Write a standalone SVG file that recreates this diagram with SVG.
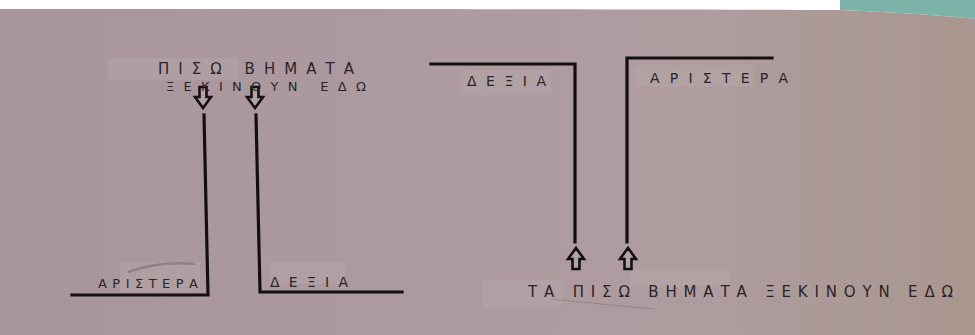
<svg xmlns="http://www.w3.org/2000/svg" width="975" height="335" viewBox="0 0 975 335">
<defs>
<linearGradient id="paper" x1="0" y1="0" x2="1" y2="0">
<stop offset="0" stop-color="#a7959a"/>
<stop offset="0.45" stop-color="#ad9ba1"/>
<stop offset="0.75" stop-color="#ae9c9e"/>
<stop offset="1" stop-color="#a9968e"/>
</linearGradient>
<path id="arrowDown" d="M-3.5,0 H3.5 V10 H8 L0,21 L-8,10 H-3.5 Z"/>
<path id="arrowUp" d="M-3.5,21 H3.5 V11 H8 L0,0 L-8,11 H-3.5 Z"/>
<style>
.wall{fill:none;stroke:#141012;stroke-width:3.2;stroke-linecap:square;stroke-linejoin:miter}
.arrow{fill:#b3a3a8;stroke:#141012;stroke-width:2.6;stroke-linejoin:miter}
.hand{font-family:"DejaVu Sans","Liberation Sans",sans-serif;fill:#2b2428;font-weight:normal}
.tape{fill:#bcaeae;opacity:0.3}
</style>
</defs>
<rect x="0" y="0" width="975" height="335" fill="#ffffff"/>
<path d="M840,0 H975 V19 C940,15 890,12 840,10 Z" fill="#7cb3a8"/>
<path d="M0,9 C300,9 600,9 840,10 C890,12 940,15 975,19 V335 H0 Z" fill="url(#paper)"/>
<g id="tapes">
<rect class="tape" x="108" y="58" width="130" height="22"/>
<rect class="tape" x="120" y="262" width="80" height="30"/>
<rect class="tape" x="270" y="262" width="75" height="22"/>
<rect class="tape" x="463" y="70" width="88" height="25"/>
<rect class="tape" x="633" y="65" width="120" height="22"/>
<rect class="tape" x="483" y="280" width="78" height="27"/>
<rect class="tape" x="630" y="270" width="100" height="17"/>
</g>
<g id="connectors">
<path class="wall" d="M204,115 L208,295 L72,295"/>
<path class="wall" d="M256,115 L260,292 L402,292"/>
<path class="wall" d="M431,64 L575,64 L575,242"/>
<path class="wall" d="M627,242 L627,58 L772,58"/>
<use href="#arrowDown" class="arrow" x="203" y="87"/>
<use href="#arrowDown" class="arrow" x="255" y="87"/>
<use href="#arrowUp" class="arrow" x="576" y="248"/>
<use href="#arrowUp" class="arrow" x="628" y="248"/>
</g>
<g id="label-top-left">
<text class="hand" x="158" y="74" font-size="15" textLength="196" lengthAdjust="spacing">ΠΙΣΩ ΒΗΜΑΤΑ</text>
<text class="hand" x="166" y="91" font-size="13" textLength="200" lengthAdjust="spacing">ΞΕΚΙΝΟΥΝ ΕΔΩ</text>
</g>
<g id="label-left-aristera">
<path d="M128,272 C150,264 175,262 195,264" fill="none" stroke="#6e6468" stroke-width="2.5" opacity="0.5"/>
<text class="hand" x="98" y="288" font-size="13" textLength="100" lengthAdjust="spacing">ΑΡΙΣΤΕΡΑ</text>
</g>
<g id="label-left-dexia">
<text class="hand" x="270" y="287" font-size="14" textLength="78" lengthAdjust="spacing">ΔΕΞΙΑ</text>
</g>
<g id="label-right-dexia">
<text class="hand" x="467" y="86" font-size="14" textLength="79" lengthAdjust="spacing">ΔΕΞΙΑ</text>
</g>
<g id="label-right-aristera">
<text class="hand" x="650" y="83" font-size="14" textLength="138" lengthAdjust="spacing">ΑΡΙΣΤΕΡΑ</text>
</g>
<g id="label-bottom-right">
<text class="hand" x="528" y="297" font-size="15" textLength="425" lengthAdjust="spacing">ΤΑ ΠΙΣΩ ΒΗΜΑΤΑ ΞΕΚΙΝΟΥΝ ΕΔΩ</text>
<path d="M552,299 C580,302 620,306 655,309" fill="none" stroke="#7a7074" stroke-width="1" opacity="0.5"/>
</g>
</svg>
